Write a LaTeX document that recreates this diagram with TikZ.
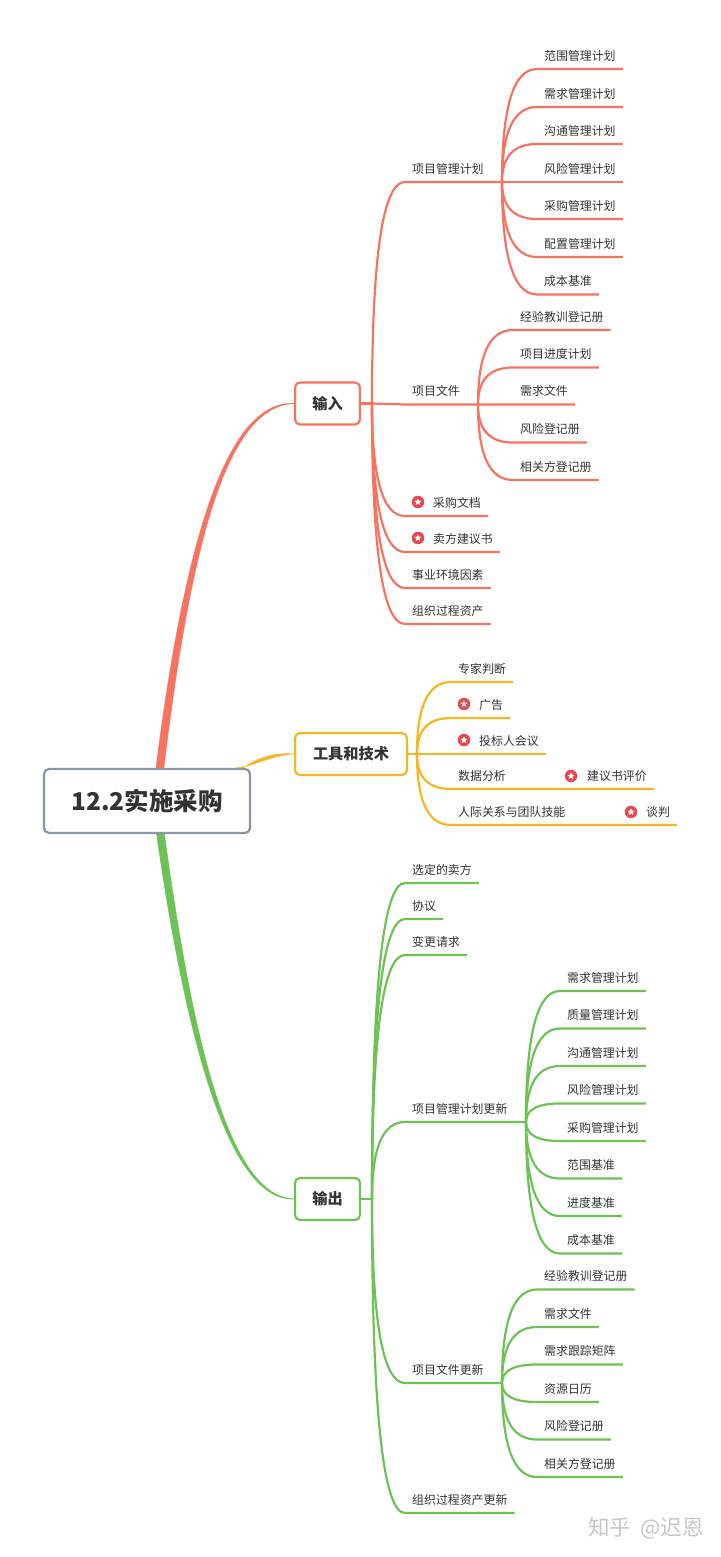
\documentclass[tikz,border=0pt]{standalone}
\usepackage{fontspec}
\setmainfont{Noto Sans CJK SC}
\usetikzlibrary{backgrounds,calc,shapes.geometric}
\definecolor{coral}{HTML}{F7735F}
\definecolor{amber}{HTML}{F7B521}
\definecolor{leaf green}{HTML}{6CC254}
\definecolor{rootgray}{HTML}{8B95A7}
\definecolor{ink}{HTML}{333333}
\definecolor{flagred}{HTML}{E8484F}
\begin{document}
\begin{tikzpicture}[
            x=1pt, y=-1pt,
            root/.style={rectangle, draw=rootgray, fill=white, rounded corners=5pt, line width=2.2pt, minimum width=206pt, minimum height=64pt, text=ink, font=\fontsize{24.5}{30}\selectfont\bfseries},
            topic/.style={rectangle, draw, fill=white, rounded corners=5pt, line width=2.2pt, minimum height=42pt, text=ink, font=\fontsize{15.2}{18}\selectfont\bfseries},
            leaf/.style={anchor=south west, inner xsep=7pt, inner ysep=0pt, minimum height=26pt, text=ink, font=\fontsize{11.9}{14}\selectfont},
            badge/.style={circle, fill=flagred, minimum size=12.5pt, inner sep=0pt, path picture={\node[star, star points=5, star point ratio=2.3, fill=white, minimum size=7.5pt, inner sep=0pt] at (path picture bounding box.center) {};}},
            branch/.style={to path={.. controls ($(\tikztostart)!0.67!(\tikztostart |- \tikztotarget)$) and ($(\tikztotarget)!0.67!(\tikztostart |- \tikztotarget)$) .. (\tikztotarget)}},
            redline/.style={draw=coral, line width=2.2pt},
            amberline/.style={draw=amber, line width=2.2pt},
            greenline/.style={draw=leaf green, line width=2.2pt}
            ]
            \useasboundingbox (0,0) rectangle (720,1557);

            % Main nodes
            \node[root] (main) at (147,801) {12.2实施采购};
            \node[topic, draw=coral, minimum width=65pt] (input) at (327.5,403.5) {输入};
            \node[topic, draw=amber, minimum width=112pt] (tools) at (351,754) {工具和技术};
            \node[topic, draw=leaf green, minimum width=65pt] (output) at (327.5,1199) {输出};

            % Forks
            \coordinate (mainmid) at (156,801);
            \coordinate (mainside) at (236,773);
            \coordinate (inputfork) at (372,403.5);
            \coordinate (toolsfork) at (417,754);
            \coordinate (outputfork) at (372,1199);
            \coordinate (planfork) at (502,182);
            \coordinate (docfork) at (478,404.5);
            \coordinate (planupfork) at (526,1122);
            \coordinate (docupfork) at (502,1383);

            % Input
            \node[leaf] (plan) at (405,182) {项目管理计划};
            \node[leaf] (docs) at (405,404.5) {项目文件};
            \node[leaf] (inscope) at (537,69) {范围管理计划};
            \node[leaf] (inreq) at (537,107) {需求管理计划};
            \node[leaf] (incomm) at (537,144) {沟通管理计划};
            \node[leaf] (inrisk) at (537,182) {风险管理计划};
            \node[leaf] (inbuy) at (537,219) {采购管理计划};
            \node[leaf] (inconf) at (537,257) {配置管理计划};
            \node[leaf] (incost) at (537,294.5) {成本基准};
            \node[leaf] (inlesson) at (513,330) {经验教训登记册};
            \node[leaf] (insched) at (513,367.5) {项目进度计划};
            \node[leaf] (inreqdoc) at (513,404.5) {需求文件};
            \node[leaf] (inreg) at (513,442.5) {风险登记册};
            \node[leaf] (inparty) at (513,480) {相关方登记册};
            \node[leaf] (buydoc) at (405,516) {\hspace*{21pt}采购文档};
            \node[leaf] (offer) at (405,552) {\hspace*{21pt}卖方建议书};
            \node[leaf] (envir) at (405,588) {事业环境因素};
            \node[leaf] (assets) at (405,624) {组织过程资产};
            \node[badge] (buystar) at (418,502) {};
            \node[badge] (offerstar) at (418,538) {};

            % Tools
            \node[leaf] (expert) at (451,682) {专家判断};
            \node[leaf] (advert) at (451,718) {\hspace*{21pt}广告};
            \node[leaf] (meeting) at (451,754) {\hspace*{21pt}投标人会议};
            \node[leaf] (analysis) at (451,789) {数据分析};
            \node[leaf] (review) at (580,789) {建议书评价};
            \node[leaf] (people) at (451,825) {人际关系与团队技能};
            \node[leaf] (talks) at (639,825) {谈判};
            \node[badge] (advertstar) at (464,704) {};
            \node[badge] (meetingstar) at (464,740) {};
            \node[badge] (reviewstar) at (571,776) {};
            \node[badge] (talksstar) at (631,812) {};

            % Output
            \node[leaf] (seller) at (405,883) {选定的卖方};
            \node[leaf] (accord) at (405,919) {协议};
            \node[leaf] (change) at (405,955) {变更请求};
            \node[leaf] (planup) at (405,1122) {项目管理计划更新};
            \node[leaf] (docup) at (405,1383) {项目文件更新};
            \node[leaf] (assetup) at (405,1513) {组织过程资产更新};
            \node[leaf] (upreq) at (560,991) {需求管理计划};
            \node[leaf] (upqual) at (560,1028.5) {质量管理计划};
            \node[leaf] (upcomm) at (560,1066) {沟通管理计划};
            \node[leaf] (uprisk) at (560,1103.5) {风险管理计划};
            \node[leaf] (upbuy) at (560,1141) {采购管理计划};
            \node[leaf] (upscope) at (560,1178.5) {范围基准};
            \node[leaf] (upsched) at (560,1216) {进度基准};
            \node[leaf] (upcost) at (560,1253.5) {成本基准};
            \node[leaf] (uplesson) at (537,1289.5) {经验教训登记册};
            \node[leaf] (upreqdoc) at (537,1327) {需求文件};
            \node[leaf] (uptrace) at (537,1364.5) {需求跟踪矩阵};
            \node[leaf] (upcal) at (537,1402) {资源日历};
            \node[leaf] (upreg) at (537,1439.5) {风险登记册};
            \node[leaf] (upparty) at (537,1477) {相关方登记册};

            % Watermark
            \node[anchor=west, inner sep=0pt, text=gray!45, font=\fontsize{21.5}{24}\selectfont] (mark) at (588,1528) {知乎\hspace{9pt}@迟恩};

            % Main curves, behind the main node
            \begin{scope}[on background layer]
                \filldraw[draw=coral, fill=coral, line width=0.5pt] ([xshift=-4pt]mainmid) .. controls (181.5,548) and (225,400) .. (input.west) .. controls (225,406.5) and (188.5,548) .. ([xshift=4pt]mainmid) -- cycle;
                \filldraw[draw=leaf green, fill=leaf green, line width=0.5pt] ([xshift=-4pt]mainmid) .. controls (181.5,1021) and (225,1202) .. (output.west) .. controls (225,1196) and (188.5,1021) .. ([xshift=4pt]mainmid) -- cycle;
                \filldraw[draw=amber, fill=amber, line width=0.5pt] (mainside) .. controls (252,760.5) and (270,752) .. (tools.west) .. controls (270,755.5) and (255,766) .. ([yshift=5pt]mainside) -- cycle;
            \end{scope}

            % Arrows for input
            \draw[redline] (input.east) -- (inputfork);
            \draw[redline] (inputfork) to[branch] (plan.south west) -- (planfork);
            \draw[redline] (inputfork) -- (docs.south west) -- (docfork);
            \foreach \leafname in {buydoc,offer,envir,assets}
                \draw[redline] (inputfork) to[branch] (\leafname.south west) -- (\leafname.south east);
            \foreach \leafname in {inscope,inreq,incomm,inrisk,inbuy,inconf,incost}
                \draw[redline] (planfork) to[branch] (\leafname.south west) -- (\leafname.south east);
            \foreach \leafname in {inlesson,insched,inreqdoc,inreg,inparty}
                \draw[redline] (docfork) to[branch] (\leafname.south west) -- (\leafname.south east);

            % Arrows for tools
            \draw[amberline] (tools.east) -- (toolsfork);
            \foreach \leafname in {expert,advert,meeting}
                \draw[amberline] (toolsfork) to[branch] (\leafname.south west) -- (\leafname.south east);
            \draw[amberline] (toolsfork) to[branch] (analysis.south west) -- (review.south east);
            \draw[amberline] (toolsfork) to[branch] (people.south west) -- (talks.south east);

            % Arrows for output
            \draw[greenline] (output.east) -- (outputfork);
            \foreach \leafname in {seller,accord,change,assetup}
                \draw[greenline] (outputfork) to[branch] (\leafname.south west) -- (\leafname.south east);
            \draw[greenline] (outputfork) to[branch] (planup.south west) -- (planupfork);
            \draw[greenline] (outputfork) to[branch] (docup.south west) -- (docupfork);
            \foreach \leafname in {upreq,upqual,upcomm,uprisk,upbuy,upscope,upsched,upcost}
                \draw[greenline] (planupfork) to[branch] (\leafname.south west) -- (\leafname.south east);
            \foreach \leafname in {uplesson,upreqdoc,uptrace,upcal,upreg,upparty}
                \draw[greenline] (docupfork) to[branch] (\leafname.south west) -- (\leafname.south east);

        \end{tikzpicture}
\end{document}
